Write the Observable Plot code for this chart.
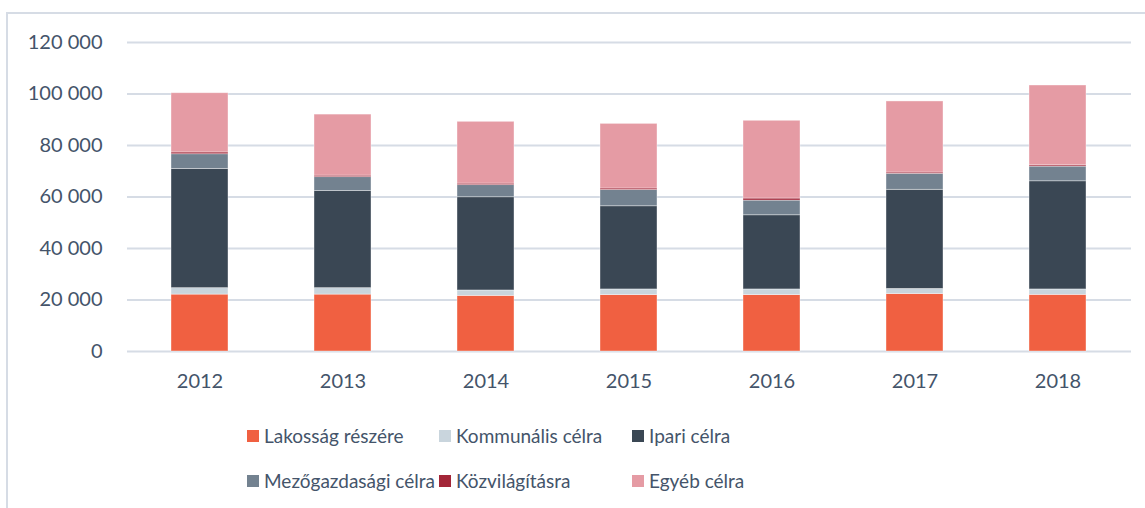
<!DOCTYPE html>
<html><head><meta charset="utf-8">
<script src="https://cdn.jsdelivr.net/npm/d3@7"></script>
<script src="https://cdn.jsdelivr.net/npm/@observablehq/plot@0.6"></script>
<style>
body{margin:0;background:#fff;font-family:Lato,"Open Sans",sans-serif}
#wrap{position:relative;width:1145px;height:508px;overflow:hidden}
#frame{position:absolute;left:6px;top:12px;right:-10px;bottom:-10px;border-left:2px solid #D6DCE5;border-top:2px solid #D6DCE5}
#chart{position:absolute;left:0;top:0}
.leg{position:absolute;display:flex;align-items:center;font-size:19px;color:#44546A;white-space:nowrap;line-height:20px}
.sw{width:12px;height:12px;margin-right:5px;flex:none}
</style>
</head><body>
<div id="wrap"><div id="frame"></div><div id="chart"></div><div id="legend"></div></div>
<script>
const years = ["2012","2013","2014","2015","2016","2017","2018"];
const series = ["Lakosság részére","Kommunális célra","Ipari célra","Mezőgazdasági célra","Közvilágításra","Egyéb célra"];
const colors = ["#F06041","#C9D5DD","#3A4754","#738290","#A32638","#E59BA4"];
const lakossag     = [22100,22100,21600,21900,21900,22300,22000];
const kommunalis   = [2500,2500,2100,2200,2200,2000,2100];
const ipari        = [46300,37700,36200,32300,28800,38500,42000];
const mezogazdasag = [5700,5400,4700,6300,5700,6200,5700];
const kozvilagitas = [700,600,600,600,800,500,500];
const egyeb        = [23000,23700,24000,25100,30200,27600,31000];
const yTicks = [0,20000,40000,60000,80000,100000,120000];

const values = [lakossag,kommunalis,ipari,mezogazdasag,kozvilagitas,egyeb];
const data = [];
series.forEach((s,i)=>years.forEach((y,j)=>data.push({year:y,series:s,value:values[i][j]})));
const fmt = d => d3.format(",")(d).replace(/,/g," ");
const textColor = "#44546A";

const chart = Plot.plot({
  width:1145, height:400,
  marginTop:42, marginBottom:49, marginLeft:127, marginRight:14,
  style:{fontFamily:"Lato, 'Open Sans', sans-serif", fontSize:"20px", color:textColor, background:"transparent"},
  x:{domain:years, paddingInner:0.6, paddingOuter:0.3, label:null},
  y:{domain:[0,120000], label:null},
  color:{domain:series, range:colors},
  marks:[
    Plot.gridY(yTicks,{stroke:"#D6DCE5", strokeOpacity:1, strokeWidth:2}),
    Plot.axisY({ticks:yTicks, tickSize:0, tickPadding:25, tickFormat:fmt, label:null, fill:textColor}),
    Plot.axisX({tickSize:0, tickPadding:22, label:null, fill:textColor}),
    Plot.barY(data,{x:"year", y:"value", fill:"series", stroke:"#fff", strokeWidth:0.75, strokeOpacity:0.5})
  ]
});
document.getElementById("chart").appendChild(chart);

const legPos = [[247,436],[439,436],[632,436],[247,481],[439,481],[632,481]];
const leg = document.getElementById("legend");
series.forEach((s,i)=>{
  const d = document.createElement("div");
  d.className="leg";
  d.style.left = legPos[i][0]+"px";
  d.style.top = (legPos[i][1]-10)+"px";
  d.innerHTML = `<span class="sw" style="background:${colors[i]}"></span><span>${s}</span>`;
  leg.appendChild(d);
});
</script>
</body></html>
